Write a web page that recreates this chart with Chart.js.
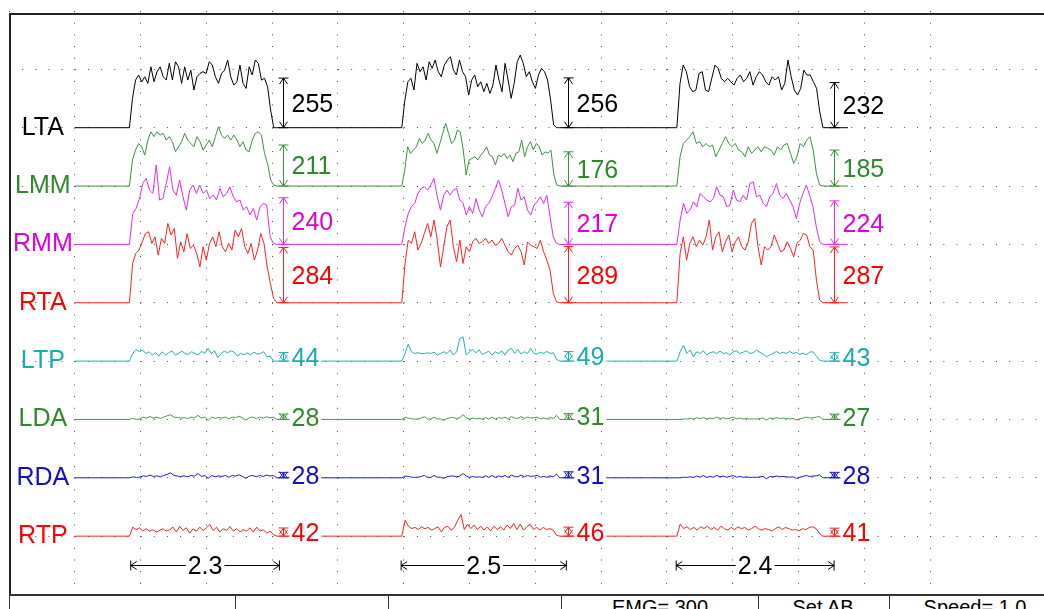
<!DOCTYPE html>
<html>
<head>
<meta charset="utf-8">
<title>EMG bursts</title>
<script src="https://cdn.jsdelivr.net/npm/chart.js@4.4.0/dist/chart.umd.min.js"></script>
<style>
    body { margin: 0; background: #fff; overflow: hidden; width: 1044px; height: 609px; position: relative;
           font-family: "Liberation Sans", Arial, sans-serif; }
    #emgChart { position: absolute; left: 0; top: 0; }
    #frame { position: absolute; left: 9px; top: 13px; width: 1100px; height: 700px;
             border-left: 2px solid #222; border-top: 2px solid #222; pointer-events: none; }
    #status { position: absolute; left: 9px; top: 594px; width: 1100px; height: 40px;
              border-top: 2px solid #333; background: #fff; }
    .cell { position: absolute; top: 0; height: 40px; border-left: 1px solid #333; }
    .txt { position: absolute; top: 1px; font-size: 20px; line-height: 20px; color: #000; white-space: nowrap;
           transform: translateX(-50%); }
</style>
</head>
<body>
<canvas id="emgChart" width="1044" height="609"></canvas>
<div id="frame"></div>
<div id="status">
    <div class="cell" style="left:0"></div>
    <div class="cell" style="left:226px"></div>
    <div class="cell" style="left:379px"></div>
    <div class="cell" style="left:552px"></div>
    <div class="cell" style="left:749px"></div>
    <div class="cell" style="left:880px"></div>
    <span class="txt" style="left:651px">EMG= 300</span>
    <span class="txt" style="left:814px">Set AB</span>
    <span class="txt" style="left:966px">Speed= 1.0</span>
</div>
<script>
// channels, top to bottom. 300 uV per division, baselines on the division lines
var names = ['LTA', 'LMM', 'RMM', 'RTA', 'LTP', 'LDA', 'RDA', 'RTP'];
var baselines = [2400, 2100, 1800, 1500, 1200, 900, 600, 300];
var lineColors  = ['#000000', '#3c913c', '#e22de2', '#ff2020', '#22b0b0', '#4a9a4a', '#1c1ccc', '#ff2020'];
var labelColors = ['#000000', '#2e882e', '#dd00dd', '#ff0000', '#1aabab', '#2e882e', '#1010c0', '#ff0000'];

// time (s)
var traceStart = 1.0, traceEnd = 12.75;
var burstOn  = [1.83, 5.97, 10.15];
var burstOff = [4.07, 8.37, 12.37];
var markAt   = [4.16, 8.50, 12.54];
var durFrom  = [1.85, 5.96, 10.14];
var durTo    = [4.11, 8.47, 12.54];
var durText  = ['2.3', '2.5', '2.4'];

// amplitude readouts (uV)
var ampLTA = [255, 256, 232];
var ampLMM = [211, 176, 185];
var ampRMM = [240, 217, 224];
var ampRTA = [284, 289, 287];
var ampLTP = [44, 49, 43];
var ampLDA = [28, 31, 27];
var ampRDA = [28, 31, 28];
var ampRTP = [42, 46, 41];

// burst envelopes (uV above baseline), samples evenly spread over each burst
var LTA_1 = [0,150,245,271,236,262,228,313,236,288,313,262,245,331,245,339,313,228,313,245,296,194,262,279,288,279,339,322,262,228,279,296,348,262,219,236,322,228,202,313,271,348,331,245,254,211,90,0,0];
var LTA_2 = [0,142,236,254,194,331,288,313,245,339,305,348,288,262,322,348,365,296,271,348,288,262,168,245,271,211,236,185,228,176,219,322,245,185,331,245,151,228,339,373,331,262,288,236,202,271,305,288,245,142,14,0,0];
var LTA_3 = [0,228,322,288,211,185,194,279,288,194,185,254,322,305,254,236,254,236,219,254,271,236,254,288,219,262,288,271,236,219,262,245,262,194,228,348,262,194,168,202,296,271,271,236,202,82,0];

var LMM_1 = [0,134,185,219,202,159,236,279,254,279,262,271,236,254,228,176,202,228,271,236,219,202,254,228,185,211,236,202,254,305,262,245,262,236,262,236,202,228,185,176,236,271,279,262,168,116,31,5,0];
var LMM_2 = [0,82,202,168,185,202,245,219,236,271,236,219,168,219,271,322,271,219,236,288,279,185,57,134,142,151,134,159,176,202,159,151,108,159,151,168,142,159,125,168,176,236,151,202,228,185,219,202,159,176,168,185,57,5,0];
var LMM_3 = [0,151,219,236,254,279,219,228,202,219,202,211,151,185,219,254,219,202,219,185,176,151,202,168,185,202,176,202,194,185,159,202,185,211,219,168,116,151,219,202,236,254,185,65,5,0];

var RMM_1 = [0,159,185,236,313,339,279,262,408,228,236,313,399,279,253,331,245,176,279,305,262,305,262,279,236,253,228,288,245,262,296,245,219,228,176,194,151,185,125,194,211,202,39,5,0];
var RMM_2 = [0,91,159,194,211,262,288,296,279,305,339,245,176,253,279,253,279,288,228,211,151,194,159,236,176,142,194,211,245,288,331,279,211,142,194,202,288,228,245,176,151,202,219,245,211,253,142,39,5,0];
var RMM_3 = [0,125,211,159,176,219,194,262,245,228,219,236,296,253,245,194,202,279,228,219,253,228,313,322,245,253,211,194,245,262,313,253,236,262,228,194,133,211,262,305,253,194,91,14,0];

var RTA_1 = [0,202,254,271,313,356,365,305,339,245,331,305,408,348,382,228,313,262,356,279,296,254,185,288,219,305,339,288,365,288,262,305,271,373,339,382,288,254,305,219,271,356,305,185,99,22,0];
var RTA_2 = [0,202,322,305,365,271,305,356,408,339,425,322,185,288,391,425,288,211,322,202,288,262,313,331,305,313,331,305,322,296,305,331,296,262,245,279,296,262,194,313,296,288,279,322,262,219,168,48,5,0];
var RTA_3 = [0,254,339,219,305,339,288,322,296,339,425,271,339,365,262,313,348,262,313,339,288,271,313,408,433,288,194,288,271,288,348,305,262,271,313,279,236,305,322,356,348,288,271,116,14,0];

var LTP_1 = [0,39,60,48,57,39,48,31,43,26,48,31,43,53,31,39,51,39,34,48,39,31,51,39,65,39,53,17,39,51,43,53,46,26,39,32,43,32,46,36,39,48,22,26,0,0];
var LTP_2 = [0,39,87,48,39,43,39,39,43,39,46,31,39,48,39,57,31,48,116,125,31,48,60,43,57,34,43,51,31,48,39,53,31,57,65,39,60,36,48,39,65,39,36,46,39,50,39,43,9,0];
var LTP_3 = [0,48,82,39,57,22,48,39,53,31,43,48,39,51,39,43,31,48,53,39,46,53,39,43,57,45,36,22,32,39,50,39,46,39,50,39,45,34,41,32,46,48,26,5,0];

var LDA_1 = [0,5,0,3,12,7,15,7,12,5,12,19,24,12,10,7,9,5,12,9,21,7,12,-5,12,5,10,7,12,3,12,9,17,7,-3,9,12,5,12,7,14,9,12,0];
var LDA_2 = [0,10,7,3,2,2,7,14,2,2,12,3,3,-5,5,9,9,5,9,24,9,2,7,3,5,2,10,2,12,2,10,5,12,2,14,7,5,15,5,12,7,9,12,3,7,2,10,5,21,0];
var LDA_3 = [0,0,3,2,5,2,9,3,10,2,7,3,12,5,9,3,7,12,3,7,2,5,2,3,2,5,7,-3,7,5,9,5,7,5,3,5,-3,3,7,12,7,9,12,15,0];

var RDA_1 = [0,5,2,3,10,7,14,7,10,5,12,17,26,12,9,7,10,5,12,9,22,7,12,-3,12,5,10,7,12,3,12,9,15,7,-3,9,12,5,12,7,14,9,12,0];
var RDA_2 = [0,9,7,3,2,3,7,12,2,2,12,3,3,-3,5,9,9,5,9,22,9,2,7,3,5,2,10,2,12,2,10,5,12,2,14,7,5,14,5,12,7,9,12,3,7,2,10,5,19,0];
var RDA_3 = [0,0,3,2,5,2,9,3,12,2,7,3,12,5,9,3,7,12,3,7,2,5,2,3,2,5,7,-5,7,5,9,5,7,5,3,5,-3,3,7,12,7,9,10,15,0];

var RTP_1 = [0,46,33,43,26,38,26,33,21,29,38,26,33,46,21,50,29,43,15,38,26,46,29,43,60,29,46,21,38,29,50,26,38,21,33,26,43,21,46,26,33,15,26,7,0];
var RTP_2 = [0,82,51,39,45,34,48,38,45,31,39,48,22,45,51,31,45,82,111,34,62,39,57,34,51,31,48,27,51,34,48,31,57,39,65,34,62,31,48,62,34,45,31,45,34,39,31,5,0];
var RTP_3 = [0,62,39,48,34,45,31,48,39,51,34,45,31,51,38,31,45,34,48,38,45,31,39,51,38,31,39,34,27,39,48,34,45,38,31,34,27,38,34,45,48,39,14,0];

var bursts = [
    [LTA_1, LTA_2, LTA_3], [LMM_1, LMM_2, LMM_3], [RMM_1, RMM_2, RMM_3], [RTA_1, RTA_2, RTA_3],
    [LTP_1, LTP_2, LTP_3], [LDA_1, LDA_2, LDA_3], [RDA_1, RDA_2, RDA_3], [RTP_1, RTP_2, RTP_3]
];
var amps = [ampLTA, ampLMM, ampRMM, ampRTA, ampLTP, ampLDA, ampRDA, ampRTP];

var FSIZE = 25;
var FONT = FSIZE + 'px "Liberation Sans", Arial, sans-serif';

function buildTrace(base, list) {
    var pts = [{x: traceStart, y: base}];
    list.forEach(function (vals, b) {
        var t0 = burstOn[b], t1 = burstOff[b];
        var dt = (t1 - t0) / (vals.length - 1);
        vals.forEach(function (v, i) {
            pts.push({x: t0 + i * dt, y: base + v});
        });
    });
    pts.push({x: traceEnd, y: base});
    return pts;
}

var datasets = names.map(function (n, k) {
    return {
        label: n,
        data: buildTrace(baselines[k], bursts[k]),
        borderColor: lineColors[k],
        borderWidth: 1,
        pointRadius: 0,
        fill: false,
        tension: 0
    };
});

function labelBox(ctx, txt, x, ym, color, centered) {
    var w = ctx.measureText(txt).width;
    var left = centered ? x - w / 2 : x;
    ctx.fillStyle = '#fff';
    ctx.fillRect(left - 2, ym - 11, w + 4, 22);
    ctx.fillStyle = color;
    ctx.fillText(txt, left, ym + FSIZE * 0.358);
}

// amplitude arrows with values, and burst duration arrows
var markers = {
    id: 'markers',
    afterDatasetsDraw: function (chart) {
        var ctx = chart.ctx, xs = chart.scales.x, ys = chart.scales.y;
        ctx.save();
        ctx.font = FONT;
        ctx.textBaseline = 'alphabetic';
        ctx.lineWidth = 1;
        names.forEach(function (n, k) {
            amps[k].forEach(function (v, b) {
                var x = Math.round(xs.getPixelForValue(markAt[b])) + 0.5;
                var yb = ys.getPixelForValue(baselines[k]);
                var yt = ys.getPixelForValue(baselines[k] + v);
                ctx.strokeStyle = lineColors[k];
                ctx.beginPath();
                ctx.moveTo(x, yb); ctx.lineTo(x, yt);
                ctx.moveTo(x - 5, yt); ctx.lineTo(x + 5, yt);
                ctx.moveTo(x - 5, yb); ctx.lineTo(x + 5, yb);
                ctx.moveTo(x - 4, yt + 6); ctx.lineTo(x, yt); ctx.lineTo(x + 4, yt + 6);
                ctx.moveTo(x - 4, yb - 6); ctx.lineTo(x, yb); ctx.lineTo(x + 4, yb - 6);
                ctx.stroke();
                labelBox(ctx, String(v), x + 8, (yb + yt) / 2, labelColors[k], false);
            });
        });
        var y = Math.round(ys.getPixelForValue(150)) + 0.5;
        durText.forEach(function (t, b) {
            var x0 = xs.getPixelForValue(durFrom[b]), x1 = xs.getPixelForValue(durTo[b]);
            ctx.strokeStyle = '#000';
            ctx.beginPath();
            ctx.moveTo(x0, y); ctx.lineTo(x1, y);
            ctx.moveTo(x0, y - 5); ctx.lineTo(x0, y + 5);
            ctx.moveTo(x1, y - 5); ctx.lineTo(x1, y + 5);
            ctx.moveTo(x0 + 6, y - 4); ctx.lineTo(x0, y); ctx.lineTo(x0 + 6, y + 4);
            ctx.moveTo(x1 - 6, y - 4); ctx.lineTo(x1, y); ctx.lineTo(x1 - 6, y + 4);
            ctx.stroke();
            labelBox(ctx, t, (x0 + x1) / 2, y, '#000', true);
        });
        ctx.restore();
    }
};

var emgChart = new Chart(document.getElementById('emgChart').getContext('2d'), {
    type: 'line',
    data: {datasets: datasets},
    plugins: [markers],
    options: {
        responsive: false,
        animation: false,
        devicePixelRatio: 1,
        layout: {padding: {left: 9, top: 11, right: 0, bottom: 14.5}},
        plugins: {legend: {display: false}, tooltip: {enabled: false}},
        scales: {
            x: {
                type: 'linear',
                min: 0,
                max: 15.73,
                ticks: {display: false, stepSize: 1},
                grid: {
                    drawTicks: false,
                    lineWidth: 1,
                    color: function (c) { return Number.isInteger(c.tick.value) ? '#4a4a4a' : 'rgba(0,0,0,0)'; }
                },
                border: {display: false, dash: [1, 10.67]}
            },
            y: {
                type: 'linear',
                min: 0,
                max: 3000,
                ticks: {
                    stepSize: 300,
                    mirror: true,
                    crossAlign: 'center',
                    padding: 4,
                    font: {family: '"Liberation Sans", Arial, sans-serif', size: FSIZE},
                    color: function (c) {
                        var k = baselines.indexOf(c.tick.value);
                        return k < 0 ? '#000' : labelColors[k];
                    },
                    callback: function (v) {
                        var k = baselines.indexOf(v);
                        return k < 0 ? '' : names[k];
                    }
                },
                grid: {
                    drawTicks: false,
                    lineWidth: 1,
                    color: function (c) { return c.tick.value >= 3000 ? 'rgba(0,0,0,0)' : '#4a4a4a'; }
                },
                border: {display: false, dash: [1, 12.16]},
                afterFit: function (scale) {
                    scale.width = 0;
                    scale.paddingTop = 0;
                    scale.paddingBottom = 0;
                }
            }
        }
    }
});
</script>
</body>
</html>
